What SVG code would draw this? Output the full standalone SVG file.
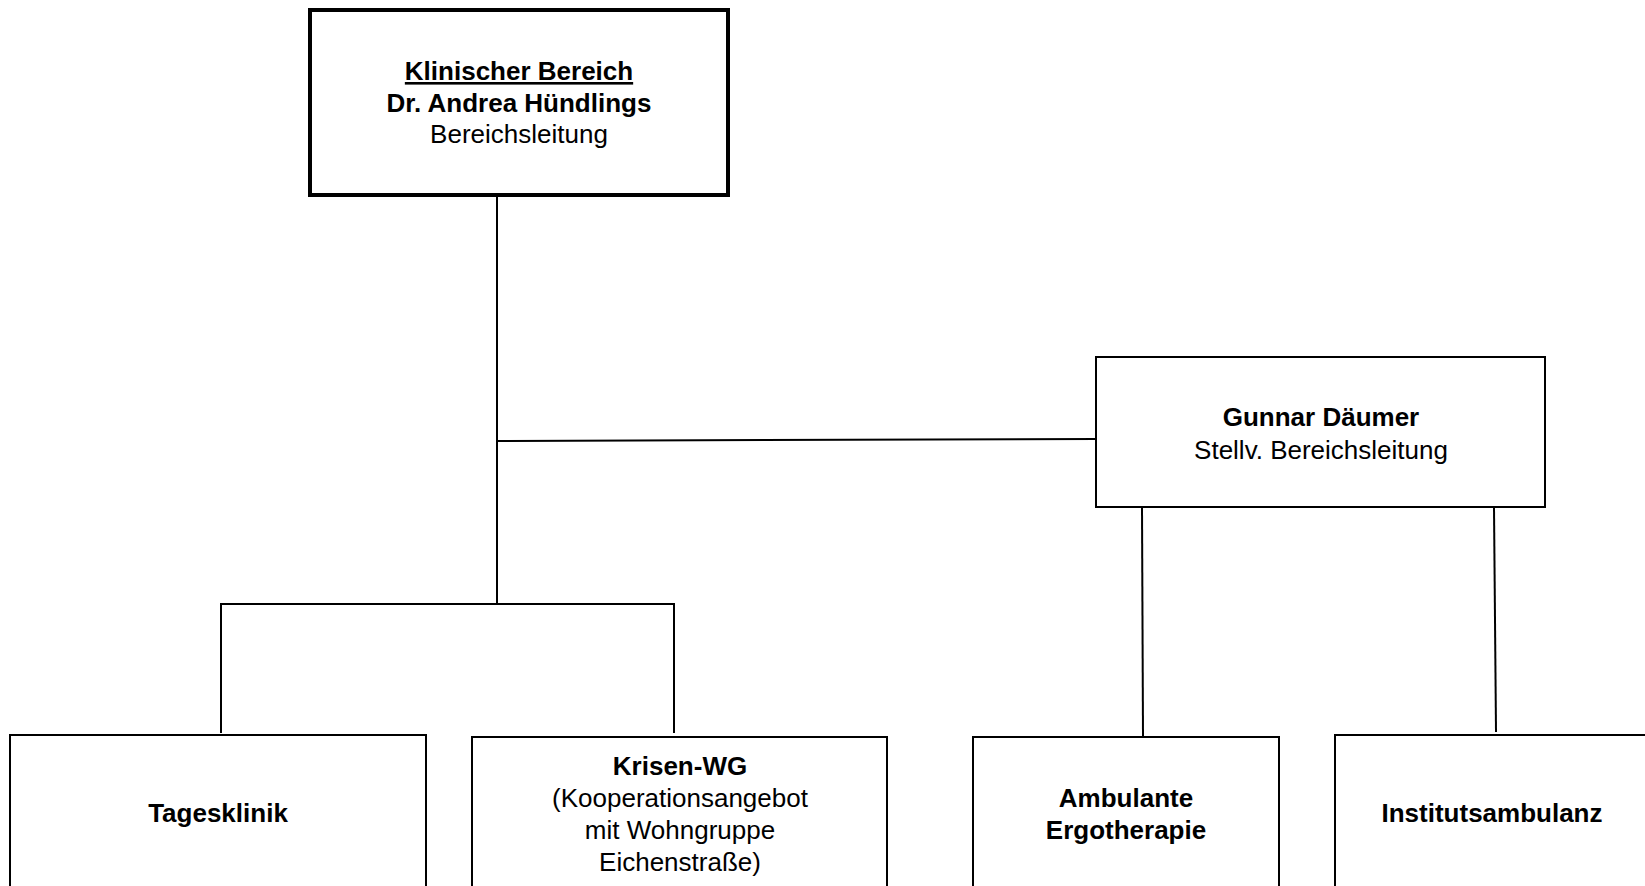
<svg xmlns="http://www.w3.org/2000/svg" width="1645" height="886" viewBox="0 0 1645 886">
<style>
.box{fill:#fff;stroke:#000;stroke-width:2}
.main{stroke-width:4}
.con{fill:none;stroke:#000;stroke-width:2}
text{font-family:"Liberation Sans",Arial,sans-serif;font-size:26px;fill:#000;text-anchor:middle}
.b{font-weight:bold}
</style>
<rect width="1645" height="886" fill="#fff"/>
<g id="connectors">
<line class="con" x1="497" y1="196" x2="497" y2="605"/>
<line class="con" x1="497" y1="441" x2="1096" y2="439"/>
<polyline class="con" points="221,733 221,604 674,604 674,733"/>
<line class="con" x1="1142" y1="508" x2="1143" y2="737"/>
<line class="con" x1="1494" y1="508" x2="1496" y2="732"/>
</g>
<g id="node-klinisch">
<rect class="box main" x="310" y="10" width="418" height="185"/>
<text class="b" x="519" y="80" text-decoration="underline">Klinischer Bereich</text>
<text class="b" x="519" y="112">Dr. Andrea Hündlings</text>
<text x="519" y="143">Bereichsleitung</text>
</g>
<g id="node-gunnar">
<rect class="box" x="1096" y="357" width="449" height="150"/>
<text class="b" x="1321" y="426">Gunnar Däumer</text>
<text x="1321" y="459">Stellv. Bereichsleitung</text>
</g>
<g id="node-tagesklinik">
<rect class="box" x="10" y="735" width="416" height="160"/>
<text class="b" x="218" y="822">Tagesklinik</text>
</g>
<g id="node-krisen">
<rect class="box" x="472" y="737" width="415" height="160"/>
<text class="b" x="680" y="775">Krisen-WG</text>
<text x="680" y="807">(Kooperationsangebot</text>
<text x="680" y="839">mit Wohngruppe</text>
<text x="680" y="871">Eichenstraße)</text>
</g>
<g id="node-ambulante">
<rect class="box" x="973" y="737" width="306" height="160"/>
<text class="b" x="1126" y="807">Ambulante</text>
<text class="b" x="1126" y="839">Ergotherapie</text>
</g>
<g id="node-institut">
<rect class="box" x="1335" y="735" width="314" height="160"/>
<text class="b" x="1492" y="822">Institutsambulanz</text>
</g>
</svg>
